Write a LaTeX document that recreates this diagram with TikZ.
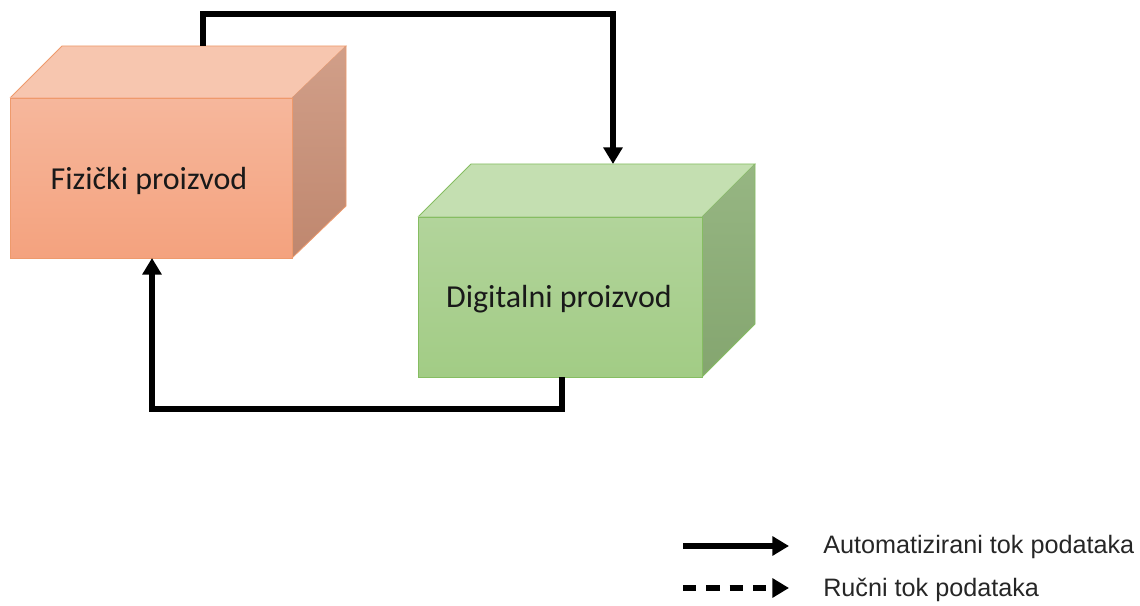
\documentclass[tikz,border=0pt]{standalone}
\usepackage{fontspec}
\setmainfont{Carlito}
\newfontfamily\legendfont{Liberation Sans}
\usetikzlibrary{arrows.meta}
\definecolor{orFrontT}{HTML}{F6B79C}
\definecolor{orFrontB}{HTML}{F4A27E}
\definecolor{orTop}{HTML}{F7C6AF}
\definecolor{orSide}{HTML}{C98E74}
\definecolor{orEdge}{HTML}{EE9A6C}
\definecolor{grFrontT}{HTML}{B2D49B}
\definecolor{grFrontB}{HTML}{A2CC85}
\definecolor{grTop}{HTML}{C4DFB1}
\definecolor{grSide}{HTML}{8BAE75}
\definecolor{grEdge}{HTML}{86BD62}
\tikzset{
  flow/.style={line width=4.5pt, draw=black, -{Triangle[length=12.5pt,width=14pt]}},
  manualflow/.style={flow, dash pattern=on 10pt off 7.5pt},
  boxlabel/.style={font=\fontsize{24pt}{28pt}\selectfont, text=black!90, anchor=base, inner sep=0pt},
  legendlabel/.style={font=\legendfont\fontsize{18.9pt}{22pt}\selectfont, text=black!85, anchor=base west, inner sep=0pt},
  face/.style={draw=#1, line width=0.6pt, line join=miter}
}
\begin{document}
\begin{tikzpicture}[x=0.75pt,y=-0.75pt]
\useasboundingbox (0,0) rectangle (1140,606);
% Fizicki proizvod box
\fill[orTop] (10,98) -- (62,46) -- (346,46) -- (292,98) -- cycle;
\draw[face=orEdge] (10,98) -- (62,46) -- (346,46) -- (292,98);
\shade[top color=orSide!85!white, bottom color=orSide!95!black] (292,98) -- (346,46) -- (346,206) -- (292,258) -- cycle;
\draw[face=orEdge] (346,46) -- (346,206) -- (292,258);
\node[face=orEdge, top color=orFrontT, bottom color=orFrontB, minimum width=211.5pt, minimum height=120pt, inner sep=0pt] (phys) at (151,178) {};
\node[boxlabel] (physLabel) at (149,190) {Fizički proizvod};
% Digitalni proizvod box
\fill[grTop] (418,217) -- (471,164) -- (755,164) -- (702,217) -- cycle;
\draw[face=grEdge] (418,217) -- (471,164) -- (755,164) -- (702,217);
\shade[top color=grSide!90!white, bottom color=grSide!95!black] (702,217) -- (755,164) -- (755,324) -- (702,377) -- cycle;
\draw[face=grEdge] (755,164) -- (755,324) -- (702,377);
\node[face=grEdge, top color=grFrontT, bottom color=grFrontB, minimum width=213pt, minimum height=120pt, inner sep=0pt] (dig) at (560,297) {};
\node[boxlabel] (digLabel) at (559,307) {Digitalni proizvod};
% connectors
\coordinate (physTop) at (203,46);
\coordinate (digTop) at (613,164);
\coordinate (digBot) at (562,377);
\coordinate (physBot) at (152,258);
\draw[flow] (physTop) -- ++(0,-32) -| (digTop);
\draw[flow] (digBot) -- ++(0,32) -| (physBot);
% legend
\coordinate (autoS) at (683,546);
\coordinate (autoE) at (789,546);
\coordinate (manS) at (683,588);
\coordinate (manE) at (789,588);
\draw[flow] (autoS) -- (autoE);
\draw[manualflow] (manS) -- (manE);
\node[legendlabel] (autoLabel) at (823,553.5) {Automatizirani tok podataka};
\node[legendlabel] (manLabel) at (823,596) {Ručni tok podataka};
\end{tikzpicture}
\end{document}
